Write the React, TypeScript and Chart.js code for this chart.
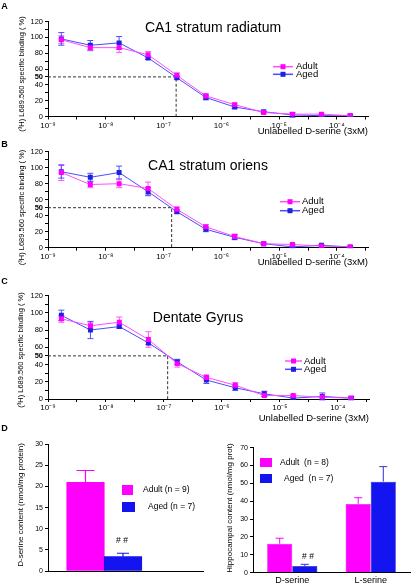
import React, { useEffect, useRef } from 'react';
import { Chart, registerables } from 'chart.js';

Chart.register(...registerables);

const FONT = '"Liberation Sans", Arial, Helvetica, sans-serif';
Chart.defaults.font.family = FONT;
Chart.defaults.color = '#000';

const W = 412;
const H = 584;
const CH = 620; // canvas height (extends past the page so bottom labels have room)
const Y_W = 30;
const X_H = 20;

// ---------------- Data ----------------
// unlabelled D-serine concentrations (M), 3-fold steps
const concentrations = [1.7e-9, 5.4e-9, 1.7e-8, 5.4e-8, 1.7e-7, 5.4e-7, 1.7e-6, 5.4e-6, 1.7e-5, 5.4e-5, 1.7e-4];
const xTickExponents = [-9, -8.5, -8, -7.5, -7, -6.5, -6, -5.5, -5, -4.5, -4, -3.5];
const xLabelExponents = [-9, -8, -7, -6, -5, -4];
const xLabels: Record<string, string> = { '-9': '10⁻⁹', '-8': '10⁻⁸', '-7': '10⁻⁷', '-6': '10⁻⁶', '-5': '10⁻⁵', '-4': '10⁻⁴' };
const bindingYTicks = [0, 10, 20, 30, 40, 50, 60, 70, 80, 90, 100, 110, 120];
const bindingYLabels = [0, 20, 40, 50, 60, 80, 100, 120];

// A: CA1 stratum radiatum
const radiatumAdult = [97, 87, 87, 78, 52, 26, 15, 5, 3, 3, 1];
const radiatumAdultErr = [5, 4, 6, 4, 3, 3, 2, 1, 1, 1, 1];
const radiatumAged = [98, 90, 93, 74, 49, 24, 12, 6, 2, 1, 1];
const radiatumAgedErr = [8, 6, 8, 2, 2, 3, 2, 1, 3, 1, 1];
const radiatumIC50 = 1.65e-7;

// B: CA1 stratum oriens
const oriensAdult = [94, 79, 80, 74, 48, 26, 14, 5, 4, 2, 1];
const oriensAdultErr = [10, 4, 5, 8, 3, 3, 3, 1, 1, 1, 1];
const oriensAged = [95, 88, 94, 70, 45, 23, 13, 5, 1, 3, 1];
const oriensAgedErr = [8, 5, 8, 5, 2, 3, 3, 1, 1, 1, 1];
const oriensIC50 = 1.38e-7;

// C: Dentate Gyrus
const dentateAdult = [93, 85, 89, 69, 41, 25, 16, 4, 4, 2, 1];
const dentateAdultErr = [4, 4, 6, 9, 4, 3, 3, 1, 1, 1, 1];
const dentateAged = [97, 80, 84, 65, 43, 22, 13, 6, 1, 3, 1];
const dentateAgedErr = [6, 10, 2, 2, 3, 4, 3, 3, 1, 4, 2];
const dentateIC50 = 1.16e-7;

// D left: D-serine content (nmol/mg protein)
const dSerineGroups = ['Adult (n = 9)', 'Aged (n = 7)'];
const dSerineContent = [21.0, 3.4];
const dSerineErr = [2.8, 0.8];
const dSerineYTicks = [0, 5, 10, 15, 20, 25, 30];

// D right: hippocampal content (nmol/mg prot)
const aminoAcids = ['D-serine', 'L-serine'];
const hippoGroups = ['Adult  (n = 8)', 'Aged  (n = 7)'];
const hippoAdult = [16.2, 38.5];
const hippoAdultErr = [3.1, 3.5];
const hippoAged = [3.7, 51.0];
const hippoAgedErr = [1.0, 8.4];
const hippoYTicks = [0, 10, 20, 30, 40, 50, 60, 70];

// ---------------- Styles ----------------
const MAG = '#ff00ff';
const MAG_LINE = '#ff4dff';
const MAG_ERR = '#ff55ff';
const BLUE = '#2020e0';
const BLUE_LINE = '#4b4bff';
const BLUE_ERR = '#5050ff';
const BAR_BLUE = '#1414f0';

type Area = { left: number; right: number; top: number; bottom: number };
type TextItem = { text: string; x: number; y: number; size: number; weight?: string; align?: CanvasTextAlign; rotate?: boolean; color?: string };

function padFor(area: Area) {
  return { left: area.left - Y_W, right: W - area.right, top: area.top, bottom: CH - area.bottom - X_H };
}

const errorBarPlugin = {
  id: 'errorBars',
  beforeDatasetsDraw(chart: any) {
    const ctx = chart.ctx;
    chart.data.datasets.forEach((ds: any, di: number) => {
      if (!ds.errors) return;
      const meta = chart.getDatasetMeta(di);
      const yScale = chart.scales[meta.yAxisID];
      ctx.save();
      ctx.strokeStyle = ds.errorColor;
      ctx.lineWidth = 1;
      meta.data.forEach((el: any, i: number) => {
        const v = meta.controller.getParsed(i).y;
        const e = ds.errors[i];
        const x = el.x;
        const c = ds.errorCap / 2;
        const yTop = yScale.getPixelForValue(v + e);
        const yBot = ds.upperOnly ? el.y : yScale.getPixelForValue(v - e);
        ctx.beginPath();
        ctx.moveTo(x, yTop);
        ctx.lineTo(x, yBot);
        ctx.moveTo(x - c, yTop);
        ctx.lineTo(x + c, yTop);
        if (!ds.upperOnly) {
          ctx.moveTo(x - c, yBot);
          ctx.lineTo(x + c, yBot);
        }
        ctx.stroke();
      });
      ctx.restore();
    });
  },
};

function textPlugin(items: TextItem[]) {
  return {
    id: 'panelText',
    afterDraw(chart: any) {
      const ctx = chart.ctx;
      items.forEach((t) => {
        ctx.save();
        ctx.fillStyle = t.color || '#000';
        ctx.font = `${t.weight || 'normal'} ${t.size}px ${FONT}`;
        ctx.textAlign = t.align || 'center';
        ctx.textBaseline = 'middle';
        ctx.translate(t.x, t.y);
        if (t.rotate) ctx.rotate(-Math.PI / 2);
        ctx.fillText(t.text, 0, 0);
        ctx.restore();
      });
    },
  };
}

function ic50Plugin(ic50: number) {
  return {
    id: 'ic50',
    beforeDatasetsDraw(chart: any) {
      const { ctx, scales, chartArea } = chart;
      const x = scales.x.getPixelForValue(ic50);
      const y = scales.y.getPixelForValue(50);
      const y0 = scales.y.getPixelForValue(0);
      ctx.save();
      ctx.strokeStyle = '#333';
      ctx.lineWidth = 1;
      ctx.setLineDash([3, 2]);
      ctx.beginPath();
      ctx.moveTo(chartArea.left, y);
      ctx.lineTo(x, y);
      ctx.lineTo(x, y0);
      ctx.stroke();
      ctx.restore();
    },
  };
}

function lineLegendPlugin(x0: number, x1: number, xt: number, ys: number[]) {
  return {
    id: 'lineLegend',
    afterDraw(chart: any) {
      const ctx = chart.ctx;
      chart.data.datasets.forEach((ds: any, i: number) => {
        const y = ys[i];
        ctx.save();
        ctx.strokeStyle = ds.borderColor;
        ctx.lineWidth = 1.5;
        ctx.beginPath();
        ctx.moveTo(x0, y);
        ctx.lineTo(x1, y);
        ctx.stroke();
        ctx.fillStyle = ds.pointBackgroundColor;
        const xm = (x0 + x1) / 2;
        ctx.fillRect(xm - 2.5, y - 2.5, 5, 5);
        ctx.fillStyle = '#000';
        ctx.font = `9.5px ${FONT}`;
        ctx.textAlign = 'left';
        ctx.textBaseline = 'middle';
        ctx.fillText(ds.label, xt, y);
        ctx.restore();
      });
    },
  };
}

function boxLegendPlugin(labels: string[], colors: string[], boxes: { x: number; y: number; w: number; h: number; tx: number }[], size: number) {
  return {
    id: 'boxLegend',
    afterDraw(chart: any) {
      const ctx = chart.ctx;
      boxes.forEach((b, i) => {
        ctx.save();
        ctx.fillStyle = colors[i];
        ctx.fillRect(b.x, b.y, b.w, b.h);
        ctx.fillStyle = '#000';
        ctx.font = `${size}px ${FONT}`;
        ctx.textAlign = 'left';
        ctx.textBaseline = 'middle';
        ctx.fillText(labels[i], b.tx, b.y + b.h / 2);
        ctx.restore();
      });
    },
  };
}

const axisGrid = (tickLength: number) => ({
  display: true,
  drawOnChartArea: false,
  drawTicks: true,
  tickLength,
  color: '#000',
  lineWidth: 1,
});

type BindingPanel = {
  letter: string;
  letterPos: [number, number];
  title: string;
  titlePos: [number, number];
  area: Area;
  adult: number[];
  adultErr: number[];
  aged: number[];
  agedErr: number[];
  ic50: number;
  legend: { x0: number; x1: number; xt: number; ys: number[] };
  xTitleY: number;
  yTitlePos: [number, number];
};

function bindingConfig(p: BindingPanel) {
  const xMax = 3.45e-4;
  return {
    type: 'line',
    data: {
      datasets: [
        {
          label: 'Adult',
          data: concentrations.map((x, i) => ({ x, y: p.adult[i] })),
          errors: p.adultErr,
          errorColor: MAG_ERR,
          errorCap: 6,
          borderColor: MAG_LINE,
          backgroundColor: MAG,
          borderWidth: 1,
          pointStyle: 'rect',
          pointRadius: 3.5,
          pointBackgroundColor: MAG,
          pointBorderColor: MAG,
          pointBorderWidth: 0,
          tension: 0,
        },
        {
          label: 'Aged',
          data: concentrations.map((x, i) => ({ x, y: p.aged[i] })),
          errors: p.agedErr,
          errorColor: BLUE_ERR,
          errorCap: 6,
          borderColor: BLUE_LINE,
          backgroundColor: BLUE,
          borderWidth: 1,
          pointStyle: 'rect',
          pointRadius: 3.5,
          pointBackgroundColor: BLUE,
          pointBorderColor: BLUE,
          pointBorderWidth: 0,
          tension: 0,
        },
      ],
    },
    options: {
      responsive: false,
      animation: false,
      events: [],
      layout: { padding: padFor(p.area) },
      plugins: { legend: { display: false }, tooltip: { enabled: false }, title: { display: false } },
      scales: {
        x: {
          type: 'logarithmic',
          min: 1e-9,
          max: xMax,
          afterBuildTicks: (s: any) => {
            s.ticks = xTickExponents.map((e) => ({ value: Math.pow(10, e) }));
          },
          afterFit: (s: any) => {
            s.height = X_H;
          },
          ticks: {
            autoSkip: false,
            maxRotation: 0,
            padding: 1,
            font: { size: 8 },
            callback: (value: any) => {
              const e = Math.log10(Number(value));
              const r = Math.round(e);
              return Math.abs(e - r) < 1e-6 && xLabelExponents.includes(r) ? xLabels[String(r)] : '';
            },
          },
          grid: axisGrid(3),
          border: { display: true, color: '#000', width: 1 },
        },
        y: {
          type: 'linear',
          min: 0,
          max: 120,
          afterBuildTicks: (s: any) => {
            s.ticks = bindingYTicks.map((v) => ({ value: v }));
          },
          afterFit: (s: any) => {
            s.width = Y_W;
          },
          ticks: {
            autoSkip: false,
            padding: 2,
            font: (ctx: any) => ({ size: 7.5, weight: ctx.tick && ctx.tick.value === 50 ? 'bold' : 'normal' }),
            callback: (value: any) => (bindingYLabels.includes(Number(value)) ? String(value) : ''),
          },
          grid: axisGrid(3),
          border: { display: true, color: '#000', width: 1 },
        },
      },
    },
    plugins: [
      ic50Plugin(p.ic50),
      errorBarPlugin,
      lineLegendPlugin(p.legend.x0, p.legend.x1, p.legend.xt, p.legend.ys),
      textPlugin([
        { text: p.letter, x: p.letterPos[0], y: p.letterPos[1], size: 9, weight: 'bold' },
        { text: p.title, x: p.titlePos[0], y: p.titlePos[1], size: 14 },
        { text: 'Unlabelled D-serine (3xM)', x: p.area.right, y: p.xTitleY, size: 9.5, align: 'right' },
        { text: '(³H) L689.560 specific binding ( %)', x: p.yTitlePos[0], y: p.yTitlePos[1], size: 7.5, rotate: true },
      ]),
    ],
  };
}

const panelA: BindingPanel = {
  letter: 'A',
  letterPos: [4.5, 6.5],
  title: 'CA1 stratum radiatum',
  titlePos: [213, 28],
  area: { left: 48, right: 368, top: 21.5, bottom: 116.5 },
  adult: radiatumAdult,
  adultErr: radiatumAdultErr,
  aged: radiatumAged,
  agedErr: radiatumAgedErr,
  ic50: radiatumIC50,
  legend: { x0: 273, x1: 293, xt: 296, ys: [66.7, 74.3] },
  xTitleY: 131,
  yTitlePos: [21.5, 74],
};

const panelB: BindingPanel = {
  letter: 'B',
  letterPos: [4.5, 145],
  title: 'CA1 stratum oriens',
  titlePos: [208, 166.5],
  area: { left: 48, right: 368, top: 151.7, bottom: 247.7 },
  adult: oriensAdult,
  adultErr: oriensAdultErr,
  aged: oriensAged,
  agedErr: oriensAgedErr,
  ic50: oriensIC50,
  legend: { x0: 280, x1: 300, xt: 302, ys: [201.7, 210.7] },
  xTitleY: 262.7,
  yTitlePos: [22, 207.5],
};

const panelC: BindingPanel = {
  letter: 'C',
  letterPos: [4.5, 281.5],
  title: 'Dentate Gyrus',
  titlePos: [198, 318],
  area: { left: 48, right: 369, top: 295.5, bottom: 399 },
  adult: dentateAdult,
  adultErr: dentateAdultErr,
  aged: dentateAged,
  agedErr: dentateAgedErr,
  ic50: dentateIC50,
  legend: { x0: 285, x1: 302, xt: 304, ys: [361, 369.3] },
  xTitleY: 418.5,
  yTitlePos: [21, 350],
};

function dSerineConfig() {
  const area = { left: 48, right: 203, top: 444.3, bottom: 571 };
  const unitsWide = 155 / 37.5;
  return {
    type: 'bar',
    data: {
      datasets: [
        {
          label: 'D-serine',
          data: dSerineContent.map((y, i) => ({ x: i + 1, y })),
          backgroundColor: [MAG, BAR_BLUE],
          errors: dSerineErr,
          errorColor: [MAG, BAR_BLUE],
          barPercentage: 1,
          categoryPercentage: 1,
        },
      ],
    },
    options: {
      responsive: false,
      animation: false,
      events: [],
      layout: { padding: padFor(area) },
      plugins: { legend: { display: false }, tooltip: { enabled: false } },
      scales: {
        x: {
          type: 'linear',
          offset: false,
          min: 0,
          max: unitsWide,
          afterBuildTicks: (s: any) => {
            s.ticks = [{ value: 0 }];
          },
          afterFit: (s: any) => {
            s.height = X_H;
          },
          ticks: { display: false },
          grid: { display: false },
          border: { display: true, color: '#000', width: 1 },
        },
        y: {
          min: 0,
          max: 30,
          afterBuildTicks: (s: any) => {
            s.ticks = dSerineYTicks.map((v) => ({ value: v }));
          },
          afterFit: (s: any) => {
            s.width = Y_W;
          },
          ticks: { padding: 2, font: { size: 7 } },
          grid: axisGrid(3),
          border: { display: true, color: '#000', width: 1 },
        },
      },
    },
    plugins: [
      {
        id: 'errorBarsMulti',
        afterDatasetsDraw(chart: any) {
          const ctx = chart.ctx;
          const ds: any = chart.data.datasets[0];
          const meta = chart.getDatasetMeta(0);
          const yScale = chart.scales.y;
          meta.data.forEach((el: any, i: number) => {
            const v = meta.controller.getParsed(i).y;
            const yTop = yScale.getPixelForValue(v + ds.errors[i]);
            const c = i === 0 ? 9 : 6;
            ctx.save();
            ctx.strokeStyle = ds.errorColor[i];
            ctx.lineWidth = 1.2;
            ctx.beginPath();
            ctx.moveTo(el.x, el.y);
            ctx.lineTo(el.x, yTop);
            ctx.moveTo(el.x - c, yTop);
            ctx.lineTo(el.x + c, yTop);
            ctx.stroke();
            ctx.restore();
          });
        },
      },
      boxLegendPlugin(dSerineGroups, [MAG, BAR_BLUE], [
        { x: 122, y: 485, w: 11, h: 10, tx: 143 },
        { x: 122, y: 502, w: 13, h: 10, tx: 148 },
      ], 8.5),
      textPlugin([
        { text: 'D', x: 4.5, y: 428.5, size: 9, weight: 'bold' },
        { text: '# #', x: 122, y: 541, size: 8.5 },
        { text: 'D-serine content (nmol/mg protein)', x: 21, y: 505, size: 8, rotate: true },
      ]),
    ],
  };
}

function hippoConfig() {
  const area = { left: 253, right: 410, top: 447.7, bottom: 572.7 };
  return {
    type: 'bar',
    data: {
      labels: aminoAcids,
      datasets: [
        {
          label: hippoGroups[0],
          data: hippoAdult,
          backgroundColor: MAG,
          borderColor: '#d000d0',
          borderWidth: 0.5,
          errors: hippoAdultErr,
          errorColor: MAG,
          errorCap: 8,
          upperOnly: true,
          barPercentage: 1,
          categoryPercentage: 0.64,
        },
        {
          label: hippoGroups[1],
          data: hippoAged,
          backgroundColor: BAR_BLUE,
          borderColor: '#0808a0',
          borderWidth: 0.5,
          errors: hippoAgedErr,
          errorColor: '#3030e0',
          errorCap: 8,
          upperOnly: true,
          barPercentage: 1,
          categoryPercentage: 0.64,
        },
      ],
    },
    options: {
      responsive: false,
      animation: false,
      events: [],
      layout: { padding: padFor(area) },
      plugins: { legend: { display: false }, tooltip: { enabled: false } },
      scales: {
        x: {
          afterFit: (s: any) => {
            s.height = X_H;
          },
          ticks: { padding: 2, font: { size: 9 }, autoSkip: false, maxRotation: 0 },
          grid: { display: false, drawTicks: false, tickLength: 0 },
          border: { display: true, color: '#000', width: 1 },
        },
        y: {
          min: 0,
          max: 70,
          afterBuildTicks: (s: any) => {
            s.ticks = hippoYTicks.map((v) => ({ value: v }));
          },
          afterFit: (s: any) => {
            s.width = Y_W;
          },
          ticks: { padding: 2, font: { size: 7 } },
          grid: axisGrid(3),
          border: { display: true, color: '#000', width: 1 },
        },
      },
    },
    plugins: [
      errorBarPlugin,
      boxLegendPlugin(hippoGroups, [MAG, BAR_BLUE], [
        { x: 260, y: 458, w: 12, h: 9, tx: 280 },
        { x: 260, y: 474, w: 12, h: 9, tx: 284 },
      ], 8.5),
      textPlugin([
        { text: '# #', x: 308, y: 557, size: 8.5 },
        { text: 'Hippocampal content (nmol/mg prot)', x: 230, y: 508, size: 8, rotate: true },
      ]),
    ],
  };
}

function ChartCanvas({ build }: { build: () => any }) {
  const ref = useRef<HTMLCanvasElement>(null);
  useEffect(() => {
    if (!ref.current) return;
    const chart = new Chart(ref.current, build());
    return () => chart.destroy();
  }, []);
  return (
    <canvas
      ref={ref}
      width={W}
      height={CH}
      style={{ position: 'absolute', left: 0, top: 0, width: W, height: CH }}
    />
  );
}

export default function App() {
  return (
    <div style={{ position: 'absolute', left: 0, top: 0, width: W, height: H, background: '#fff', overflow: 'hidden' }}>
      <ChartCanvas build={() => bindingConfig(panelA)} />
      <ChartCanvas build={() => bindingConfig(panelB)} />
      <ChartCanvas build={() => bindingConfig(panelC)} />
      <ChartCanvas build={dSerineConfig} />
      <ChartCanvas build={hippoConfig} />
    </div>
  );
}
